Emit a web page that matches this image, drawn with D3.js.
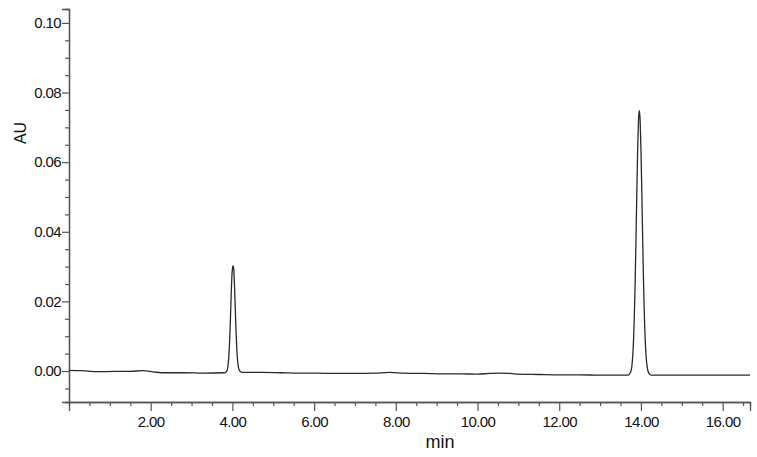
<!DOCTYPE html>
<html><head><meta charset="utf-8">
<script src="https://cdn.jsdelivr.net/npm/d3@7/dist/d3.min.js"></script>
<style>
html,body{margin:0;padding:0;background:#fff;}
svg{display:block;}
text{font-family:"Liberation Sans",Arial,sans-serif;fill:#111;}
</style></head>
<body>
<svg id="chart" width="757" height="457"></svg>
<script>
// Retention time (min)
const timeMin = [
  0.00, 0.30, 0.70, 1.10, 1.50, 1.80, 2.10, 2.35, 2.80, 3.30, 3.80,
  3.83, 3.85, 3.87, 3.89, 3.91, 3.93, 3.95, 3.97, 3.99, 4.01, 4.02, 4.03, 4.05, 4.07, 4.09, 4.11, 4.13, 4.15, 4.17, 4.20, 4.25,
  4.70, 5.20, 5.65, 6.10, 6.50, 7.00, 7.50, 7.85, 8.20, 8.70, 9.20, 9.60, 10.00, 10.30, 10.50, 10.80, 11.00, 11.50, 12.00, 12.50, 13.00, 13.40, 13.65,
  13.70, 13.72, 13.74, 13.76, 13.78, 13.80, 13.82, 13.84, 13.86, 13.88, 13.90, 13.92, 13.94, 13.96, 13.98, 14.00, 14.02, 14.04, 14.06, 14.08, 14.10, 14.12, 14.14, 14.16, 14.18, 14.21, 14.26,
  14.50, 15.00, 15.50, 16.00, 16.67
];
// Absorbance (AU)
const absAU = [
  0.0002, 0.0001, -0.0002, -0.0001, -0.0001, 0.0001, -0.0003, -0.0005, -0.0005, -0.0006, -0.0005,
  -0.0004, -0.0002, 0.0002, 0.0013, 0.0037, 0.0081, 0.0145, 0.0218, 0.0278, 0.0300, 0.0302, 0.0296, 0.0250, 0.0180, 0.0110, 0.0058, 0.0026, 0.0010, 0.0002, -0.0002, -0.0004,
  -0.0004, -0.0005, -0.0006, -0.0006, -0.0007, -0.0007, -0.0006, -0.0004, -0.0006, -0.0007, -0.0008, -0.0008, -0.0009, -0.0007, -0.0006, -0.0007, -0.0009, -0.0010, -0.0011, -0.0011, -0.0012, -0.0012, -0.0012,
  -0.0011, -0.0009, -0.0005, 0.0001, 0.0016, 0.0044, 0.0091, 0.0163, 0.0262, 0.0384, 0.0515, 0.0634, 0.0719, 0.0749, 0.0721, 0.0640, 0.0525, 0.0397, 0.0276, 0.0175, 0.0103, 0.0055, 0.0024, 0.0007, -0.0003, -0.0009, -0.0012,
  -0.0012, -0.0012, -0.0012, -0.0012, -0.0012
];
const xMajorTicks = [2, 4, 6, 8, 10, 12, 14, 16];
const xMinorTicks = [0.5, 1, 1.5, 2.5, 3, 3.5, 4.5, 5, 5.5, 6.5, 7, 7.5, 8.5, 9, 9.5, 10.5, 11, 11.5, 12.5, 13, 13.5, 14.5, 15, 15.5, 16.5];
const yMajorTicks = [0.00, 0.02, 0.04, 0.06, 0.08, 0.10];
const yMinorTicks = [-0.005, 0.005, 0.01, 0.015, 0.025, 0.03, 0.035, 0.045, 0.05, 0.055, 0.065, 0.07, 0.075, 0.085, 0.09, 0.095];

(function () {
const svg = d3.select("#chart");
const mLeft = 69, mRight = 750, mTop = 9, mBottom = 402;

const x = d3.scaleLinear().domain([0, 16.67]).range([mLeft, mRight]);
const y = d3.scaleLinear().domain([-0.0089, 0.104]).range([mBottom, mTop]);

const axisColor = "#555";

// X axis
const gx = svg.append("g").attr("transform", `translate(0,${mBottom})`);
gx.call(d3.axisBottom(x).tickValues(xMinorTicks).tickSize(4).tickFormat(""));
gx.append("g").call(d3.axisBottom(x).tickValues(xMajorTicks).tickSize(9).tickPadding(5).tickFormat(d3.format(".2f")));
gx.selectAll(".domain").attr("stroke", axisColor).attr("stroke-width", 1.3);
gx.selectAll(".tick line").attr("stroke", axisColor).attr("stroke-width", 1.2);
gx.selectAll("text").style("font-size", "15px").style("letter-spacing", "-0.6px").attr("fill", "#111");

// Y axis
const gy = svg.append("g").attr("transform", `translate(${mLeft},0)`);
gy.call(d3.axisLeft(y).tickValues(yMinorTicks).tickSize(4).tickFormat(""));
gy.append("g").call(d3.axisLeft(y).tickValues(yMajorTicks).tickSize(7).tickPadding(1).tickFormat(d3.format(".2f")));
gy.selectAll(".domain").attr("stroke", axisColor).attr("stroke-width", 1.3);
gy.selectAll(".tick line").attr("stroke", axisColor).attr("stroke-width", 1.2);
gy.selectAll("text").style("font-size", "15px").style("letter-spacing", "-0.6px").attr("fill", "#111");

// Axis titles
svg.append("text").attr("transform", "translate(26,133) rotate(-90)")
  .attr("text-anchor", "middle").style("font-size", "16px").text("AU");
svg.append("text").attr("x", 440).attr("y", 448)
  .attr("text-anchor", "middle").style("font-size", "18px").text("min");

// Trace
const data = timeMin.map((t, i) => [t, absAU[i]]);
svg.append("path").datum(data)
  .attr("fill", "none").attr("stroke", "#2a2a2a").attr("stroke-width", 1.3)
  .attr("stroke-linejoin", "round")
  .attr("d", d3.line().x(d => x(d[0])).y(d => y(d[1])).curve(d3.curveMonotoneX));
})();
</script>
</body></html>
